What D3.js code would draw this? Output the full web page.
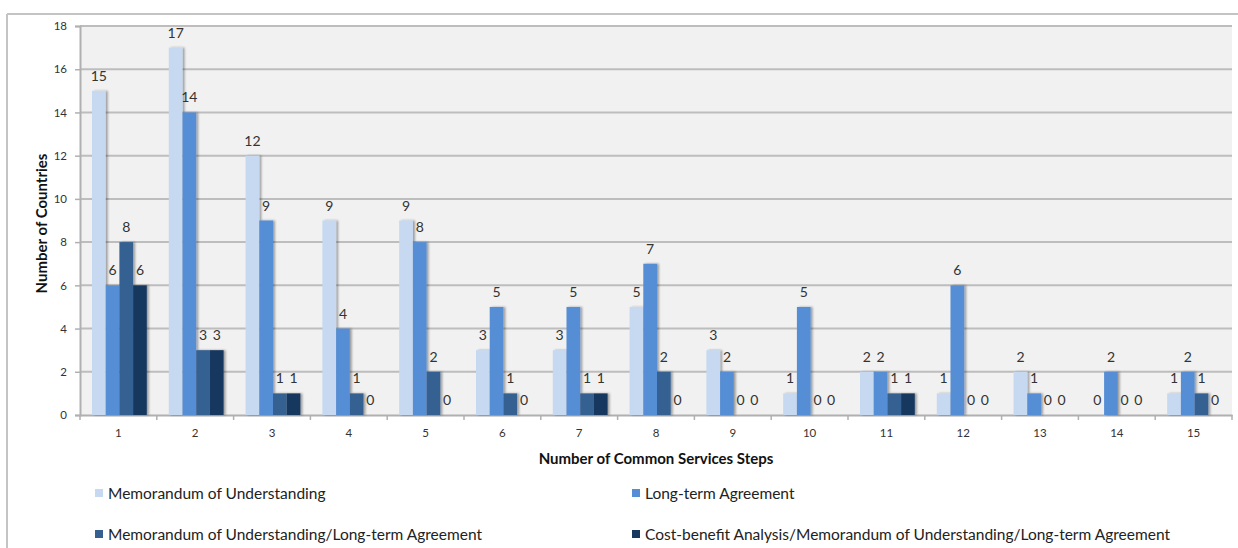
<!DOCTYPE html>
<html><head><meta charset="utf-8">
<script src="https://cdn.jsdelivr.net/npm/d3@7"></script>
<style>body{margin:0;background:#fff;}svg{display:block;font-family:Lato,"Open Sans",sans-serif;}</style>
</head><body>
<svg id="c" width="1238" height="548"></svg>
<script>
const categories = ["1","2","3","4","5","6","7","8","9","10","11","12","13","14","15"];
const seriesNames = ["Memorandum of Understanding","Long-term Agreement","Memorandum of Understanding/Long-term Agreement","Cost-benefit Analysis/Memorandum of Understanding/Long-term Agreement"];
const mouValues = [15,17,12,9,9,3,3,5,3,1,2,1,2,0,1];
const ltaValues = [6,14,9,4,8,5,5,7,2,5,2,6,1,2,2];
const mouLtaValues = [8,3,1,1,2,1,1,2,0,0,1,0,0,0,1];
const cbaValues = [6,3,1,0,0,0,1,0,0,0,1,0,0,0,0];
const yTicks = [0,2,4,6,8,10,12,14,16,18];
const colors = ["#c6d9f1","#558ed5","#366092","#17375e"];

const allSeries = [mouValues, ltaValues, mouLtaValues, cbaValues];
const svg = d3.select("#c");
const L = 80, R = 1232, T = 26, B = 415;

// outer frame
svg.append("line").attr("x1",7).attr("x2",1238).attr("y1",14).attr("y2",14).attr("stroke","#c4c4c4").attr("stroke-width",2);
svg.append("line").attr("x1",7).attr("x2",7).attr("y1",14).attr("y2",548).attr("stroke","#c4c4c4").attr("stroke-width",2);

const defs = svg.append("defs");
const f = defs.append("filter").attr("id","sh").attr("x","-20%").attr("y","-10%").attr("width","160%").attr("height","120%");
f.append("feDropShadow").attr("dx",2).attr("dy",0).attr("stdDeviation",1.2).attr("flood-color","#000").attr("flood-opacity",0.35);

const x0 = d3.scaleBand().domain(categories).range([L, R]).paddingInner(0).paddingOuter(0);
const x1 = d3.scaleBand().domain(d3.range(4)).range([12, x0.bandwidth() - 10]);
const y = d3.scaleLinear().domain([0, 18]).range([B, T]);

svg.append("rect").attr("x",L).attr("y",T).attr("width",R-L).attr("height",B-T).attr("fill","#f1f1f1");

// gridlines
svg.append("g").selectAll("line").data(yTicks.filter(d=>d>0)).join("line")
  .attr("x1",L).attr("x2",R).attr("y1",d=>y(d)).attr("y2",d=>y(d))
  .attr("stroke","#bdbdbd").attr("stroke-width",2);

// y axis
const yAxis = svg.append("g").attr("transform",`translate(${L},0)`)
  .call(d3.axisLeft(y).tickValues(yTicks).tickSize(5).tickPadding(8));
yAxis.select(".domain").attr("stroke","#b0b0b0").attr("stroke-width",2);
yAxis.selectAll(".tick line").attr("stroke","#b0b0b0").attr("stroke-width",1.5);
yAxis.selectAll(".tick text").attr("font-size",11.5).attr("fill","#333").attr("font-family","Lato,sans-serif");

// x axis
const xAxis = svg.append("g").attr("transform",`translate(0,${B})`)
  .call(d3.axisBottom(x0).tickSize(0).tickPadding(14));
xAxis.select(".domain").attr("stroke","#b0b0b0").attr("stroke-width",2);
xAxis.selectAll(".tick text").attr("font-size",11.5).attr("fill","#333").attr("font-family","Lato,sans-serif");
svg.append("g").selectAll("line").data(d3.range(categories.length+1)).join("line")
  .attr("x1",i=>L + i*x0.step()).attr("x2",i=>L + i*x0.step())
  .attr("y1",B).attr("y2",B+5).attr("stroke","#b0b0b0").attr("stroke-width",1.5);

// bars
const data = [];
categories.forEach((c,ci)=>allSeries.forEach((s,si)=>data.push({c, si, v:s[ci]})));
svg.append("g").selectAll("rect").data(data.filter(d=>d.v>0)).join("rect")
  .attr("x",d=>x0(d.c)+x1(d.si)).attr("width",x1.bandwidth())
  .attr("y",d=>y(d.v)).attr("height",d=>B-y(d.v))
  .attr("fill",d=>colors[d.si]).attr("filter","url(#sh)");

// value labels
svg.append("g").selectAll("text").data(data).join("text")
  .attr("x",d=>x0(d.c)+x1(d.si)+x1.bandwidth()/2)
  .attr("y",d=>y(d.v)-10)
  .attr("text-anchor","middle").attr("font-size",14).attr("fill","#333")
  .text(d=>d.v);

// axis titles
svg.append("text").attr("transform",`translate(47,${(T+B)/2+3}) rotate(-90)`)
  .attr("text-anchor","middle").attr("font-size",15).attr("font-weight","bold").attr("fill","#111")
  .text("Number of Countries");
svg.append("text").attr("x",(L+R)/2).attr("y",464)
  .attr("text-anchor","middle").attr("font-size",15).attr("font-weight","bold").attr("fill","#111")
  .text("Number of Common Services Steps");

// legend
const legPos = [[95,494],[632,494],[95,535],[632,535]];
const lg = svg.append("g").selectAll("g").data(seriesNames).join("g")
  .attr("transform",(d,i)=>`translate(${legPos[i][0]},${legPos[i][1]})`);
lg.append("rect").attr("x",0).attr("y",-5).attr("width",8).attr("height",8).attr("fill",(d,i)=>colors[i]);
lg.append("text").attr("x",13).attr("y",5).attr("font-size",15.5).attr("fill","#222").text(d=>d);
</script>
</body></html>
